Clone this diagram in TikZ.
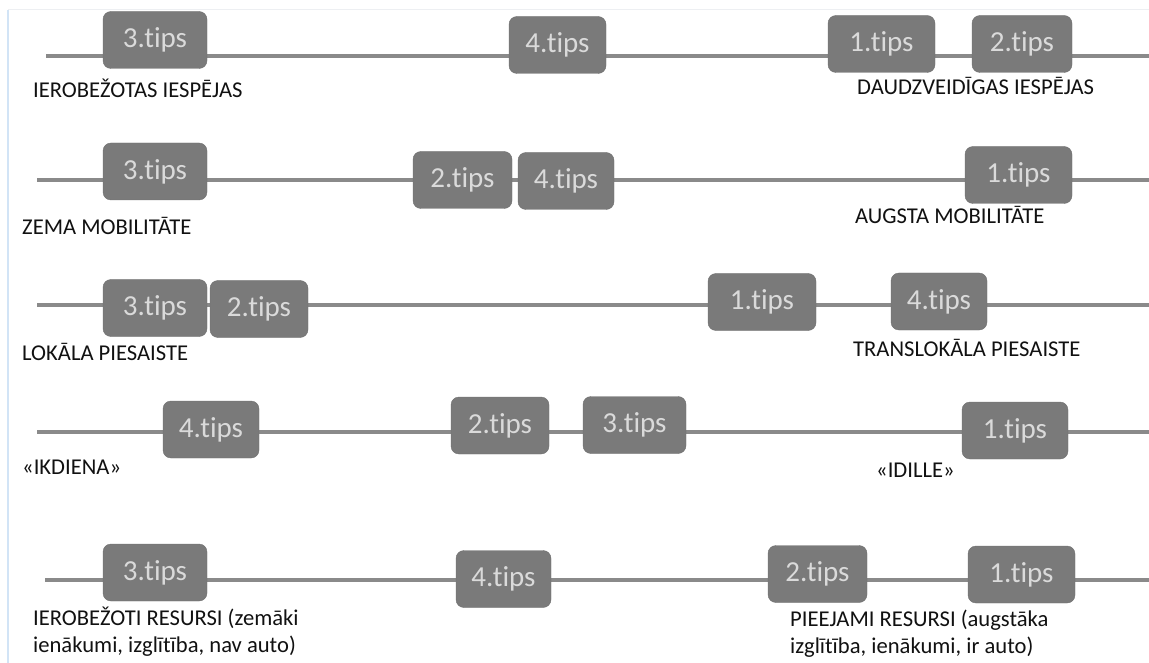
\documentclass[tikz,border=0pt]{standalone}
\usepackage{fontspec}
\setmainfont[Ligatures={NoCommon,NoContextual},RawFeature={-liga;-clig;-calt;-dlig}]{Carlito}
\definecolor{boxgray}{HTML}{7A7A7A}
\definecolor{boxtxt}{HTML}{DADADA}
\definecolor{linegray}{HTML}{8A8A8A}
\definecolor{labtxt}{HTML}{111111}
\definecolor{framegray}{HTML}{EDEFF2}
\definecolor{frameblue}{HTML}{D2E4F6}
\begin{document}
\begin{tikzpicture}[x=1pt, y=-1pt,
    tipbox/.style={rectangle, rounded corners=8pt, fill=boxgray, draw=boxgray!92!black,
            text=boxtxt, minimum width=101pt, minimum height=57pt, inner sep=0pt,
            font=\fontsize{29}{29}\selectfont},
    rowline/.style={linegray, line width=3.5pt},
    endtext/.style={anchor=west, text=labtxt, inner sep=0pt, align=left,
            font=\fontsize{22.6}{27}\selectfont}]
\useasboundingbox [fill=white] (0,0) rectangle (1149,663);
\draw [framegray, line width=1pt] (8,10) -- (1149,10);
\draw [frameblue, line width=1.5pt] (8,10) -- (8,663);
% row ends
\coordinate (as) at (46,56);  \coordinate (ae) at (1149,56);
\coordinate (bs) at (37,180); \coordinate (be) at (1149,180);
\coordinate (cs) at (37,305); \coordinate (ce) at (1149,305);
\coordinate (ds) at (37,432); \coordinate (de) at (1149,432);
\coordinate (es) at (45,580); \coordinate (ee) at (1149,580);
\draw [rowline] (as) -- (ae);
\draw [rowline] (bs) -- (be);
\draw [rowline] (cs) -- (ce);
\draw [rowline] (ds) -- (de);
\draw [rowline] (es) -- (ee);
% row 1
\node [tipbox, minimum width=104pt] (a3) at (155,40) {3.tips};
\node [tipbox, minimum width=97pt] (a4) at (557.5,45) {4.tips};
\node [tipbox, minimum width=107pt] (a1) at (881.5,44) {1.tips};
\node [tipbox, minimum width=100pt] (a2) at (1022,44) {2.tips};
\node [endtext] (al) at (33,88) {IEROBEŽOTAS IESPĒJAS};
\node [endtext] (ar) at (857,86) {DAUDZVEIDĪGAS IESPĒJAS};
% row 2
\node [tipbox, minimum width=104pt] (b3) at (155,171.5) {3.tips};
\node [tipbox, minimum width=99pt] (b2) at (462.5,180) {2.tips};
\node [tipbox, minimum width=96pt] (b4) at (566,181) {4.tips};
\node [tipbox, minimum width=107pt] (b1) at (1018.5,175) {1.tips};
\node [endtext] (bl) at (22,226) {ZEMA MOBILITĀTE};
\node [endtext] (br) at (855,215) {AUGSTA MOBILITĀTE};
% row 3
\node [tipbox, minimum width=104pt] (c3) at (155,308) {3.tips};
\node [tipbox, minimum width=98pt] (c2) at (259,309) {2.tips};
\node [tipbox, minimum width=108pt] (c1) at (762,302) {1.tips};
\node [tipbox, minimum width=96pt] (c4) at (939,301.5) {4.tips};
\node [endtext] (cl) at (22,352) {LOKĀLA PIESAISTE};
\node [endtext] (cr) at (853,348) {TRANSLOKĀLA PIESAISTE};
% row 4
\node [tipbox, minimum width=96pt] (d4) at (211,429.5) {4.tips};
\node [tipbox, minimum width=98pt] (d2) at (500,425.5) {2.tips};
\node [tipbox, minimum width=103pt] (d3) at (634.5,425) {3.tips};
\node [tipbox, minimum width=106pt] (d1) at (1015,430.5) {1.tips};
\node [endtext] (dl) at (22,467) {«IKDIENA»};
\node [endtext] (dr) at (876,470) {«IDILLE»};
% row 5
\node [tipbox, minimum width=104pt] (e3) at (155,572.5) {3.tips};
\node [tipbox, minimum width=95pt] (e4) at (503.5,579) {4.tips};
\node [tipbox, minimum width=99pt] (e2) at (817.5,574) {2.tips};
\node [tipbox, minimum width=107pt] (e1) at (1021.5,574.5) {1.tips};
\node [endtext] (el) at (33,631.5) {IEROBEŽOTI RESURSI (zemāki\\ienākumi, izglītība, nav auto)};
\node [endtext] (er) at (790,633.5) {PIEEJAMI RESURSI (augstāka\\izglītība, ienākumi, ir auto)};
\end{tikzpicture}
\end{document}
